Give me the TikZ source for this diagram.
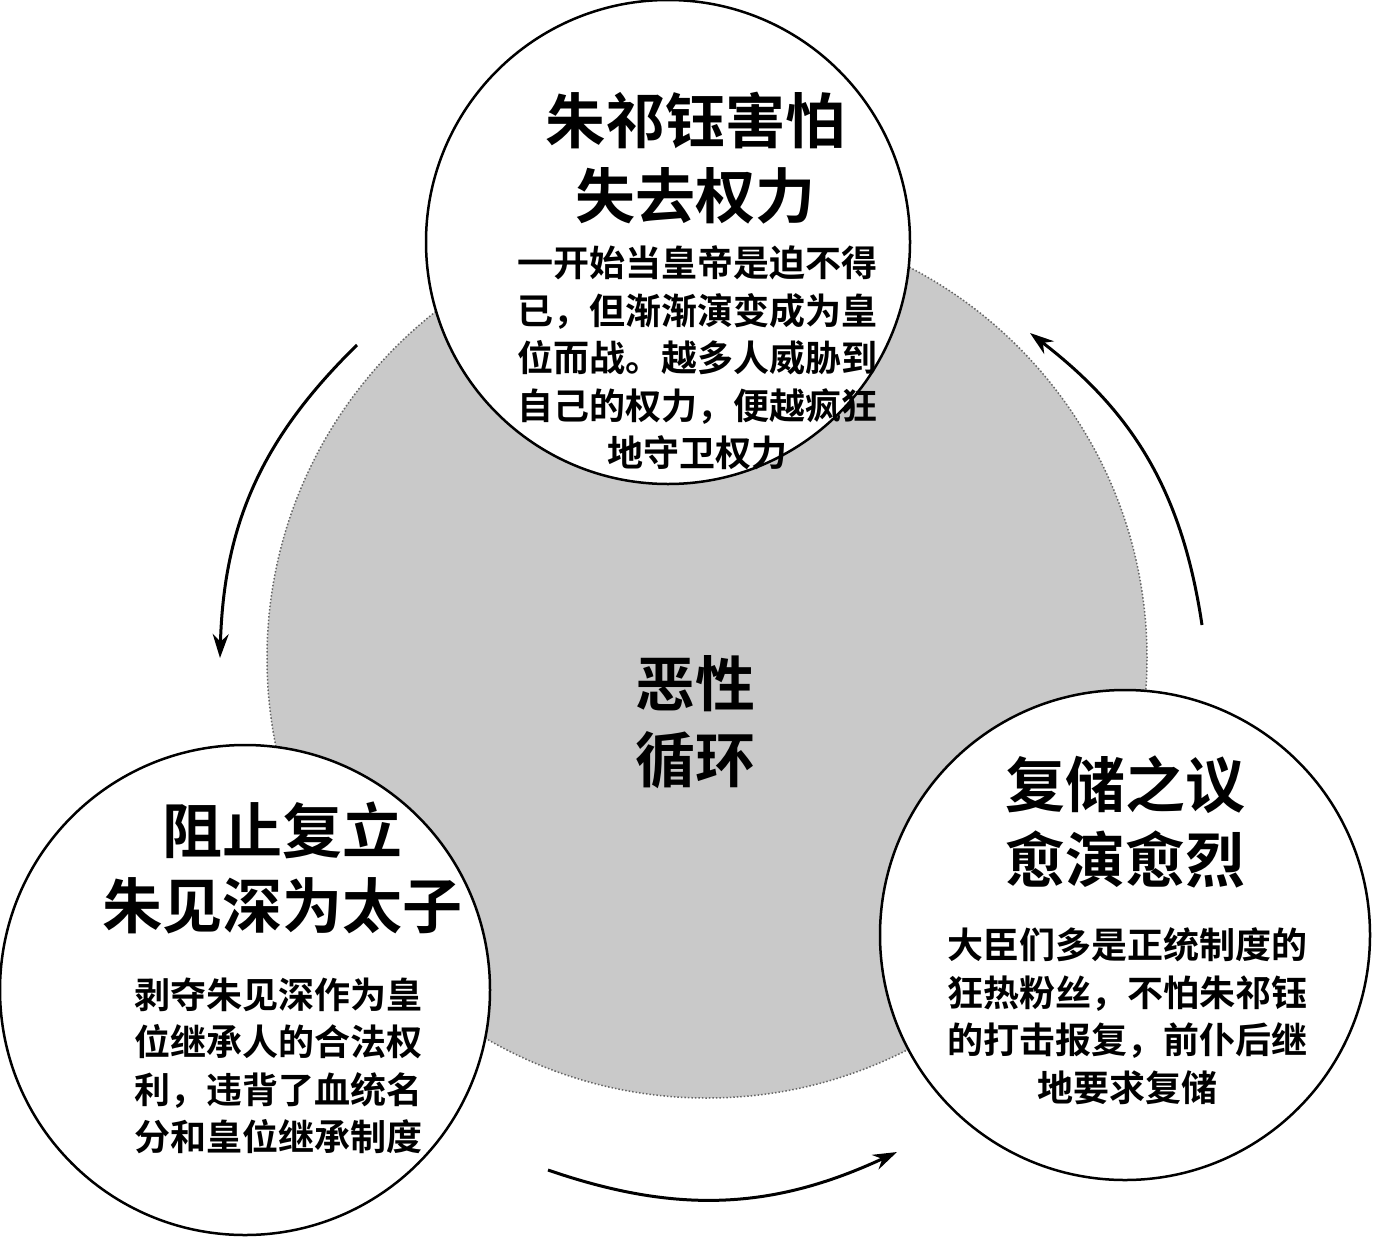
\documentclass[tikz,border=0pt]{standalone}
\usepackage{fontspec}
\newfontfamily\cjk{Noto Sans CJK SC}[BoldFont={* Bold}]
\usetikzlibrary{arrows.meta}
\begin{document}
\begin{tikzpicture}[x=1pt,y=-1pt,
  circ/.style={circle,draw=black,line width=2.5pt,fill=white,inner sep=0pt},
  ttl/.style={font=\cjk\bfseries\fontsize{60}{75}\selectfont,align=center},
  body/.style={font=\cjk\bfseries\fontsize{36}{47.5}\selectfont,align=center},
  arr/.style={line width=3pt,-{Stealth[length=24pt,width=16pt]}}]
\useasboundingbox (0,0) rectangle (1400,1250);
\fill[white] (0,0) rectangle (1400,1250);
\node[circle,fill=black!21,draw=black!60,dotted,line width=1.5pt,minimum size=880pt] (big) at (707,658) {};
\node[circ,minimum size=484pt] (top) at (668,242) {};
\node[circ,minimum size=490pt] (left) at (245,990) {};
\node[circ,minimum size=490pt] (right) at (1125,935) {};
\node[ttl] (ttop) at (695,158) {朱祁钰害怕\\失去权力};
\node[body] (btop) at (697,358) {一开始当皇帝是迫不得\\已，但渐渐演变成为皇\\位而战。越多人威胁到\\自己的权力，便越疯狂\\地守卫权力};
\node[ttl] (tleft) at (282,868) {阻止复立\\朱见深为太子};
\node[body] (bleft) at (278,1066) {剥夺朱见深作为皇\\位继承人的合法权\\利，违背了血统名\\分和皇位继承制度};
\node[ttl] (tright) at (1125,822) {复储之议\\愈演愈烈};
\node[body] (bright) at (1127,1016) {大臣们多是正统制度的\\狂热粉丝，不怕朱祁钰\\的打击报复，前仆后继\\地要求复储};
\node[font=\cjk\bfseries\fontsize{60}{76}\selectfont,align=center] (ctr) at (695,722) {恶性\\循环};
\coordinate (a1) at (357,345); \coordinate (a2) at (220,658);
\coordinate (b1) at (548,1170); \coordinate (b2) at (897,1152);
\coordinate (c1) at (1202,625); \coordinate (c2) at (1030,333);
\draw[arr] (a1) to[bend right=22] (a2);
\draw[arr] (b1) to[bend right=22] (b2);
\draw[arr] (c1) to[bend right=22] (c2);
\end{tikzpicture}
\end{document}
